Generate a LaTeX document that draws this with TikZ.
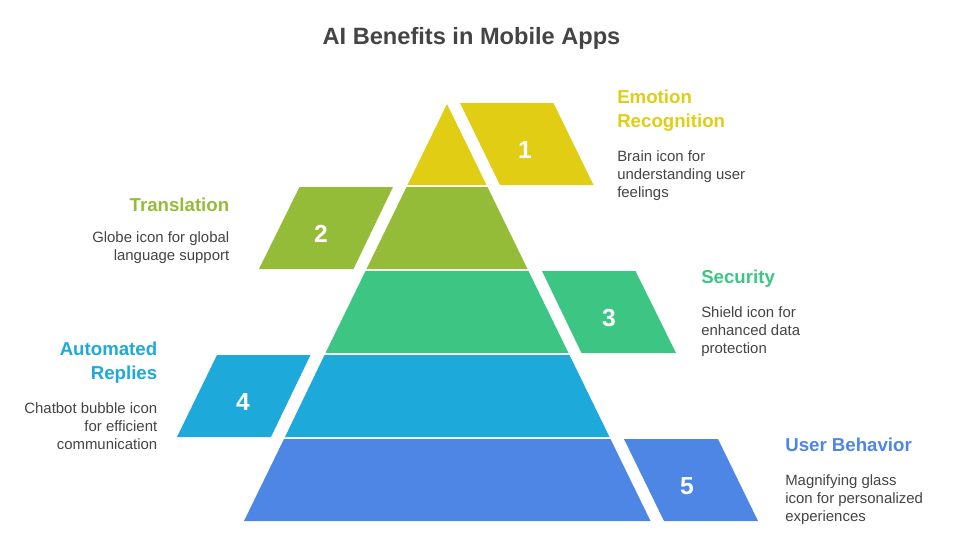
\documentclass[tikz,border=0pt]{standalone}
\usepackage{fontspec}
\setmainfont{Liberation Sans}
\usepackage{tikz}

\definecolor{emotioncol}{HTML}{E0CD14}
\definecolor{translcol}{HTML}{95BC38}
\definecolor{securcol}{HTML}{3DC683}
\definecolor{repliescol}{HTML}{1EA9DB}
\definecolor{behavcol}{HTML}{4D86E5}
\definecolor{inkcol}{HTML}{444444}

\tikzset{
  numlabel/.style={text=white, inner sep=0pt, font=\fontsize{18.5}{20}\selectfont\bfseries},
  headR/.style={anchor=north west, inner sep=0pt, align=left, font=\fontsize{14}{18}\selectfont\bfseries},
  headL/.style={anchor=north east, inner sep=0pt, align=right, font=\fontsize{14}{18}\selectfont\bfseries},
  bodyR/.style={anchor=north west, inner sep=0pt, align=left, text=inkcol, font=\fontsize{11.2}{13.5}\selectfont},
  bodyL/.style={anchor=north east, inner sep=0pt, align=right, text=inkcol, font=\fontsize{11.2}{13.5}\selectfont}
}

\begin{document}
\begin{tikzpicture}[x=0.75pt, y=-0.75pt]
    \useasboundingbox (0,0) rectangle (961,557);

    \node[anchor=center, inner sep=0pt, text=inkcol, font=\fontsize{17.7}{22}\selectfont\bfseries] (title) at (471.5,38) {AI Benefits in Mobile Apps};

    % pyramid layers
    \fill[emotioncol] (447,104) -- (486.5,185) -- (407.5,185) -- cycle;
    \fill[translcol]  (406.5,187) -- (487.5,187) -- (527.5,269) -- (366.5,269) -- cycle;
    \fill[securcol]   (365.5,271) -- (528.5,271) -- (568.5,353) -- (325.5,353) -- cycle;
    \fill[repliescol] (324.5,355) -- (569.5,355) -- (609.5,437) -- (285,437) -- cycle;
    \fill[behavcol]   (284,439) -- (610.5,439) -- (650.5,521) -- (244,521) -- cycle;

    % side blocks
    \fill[emotioncol] (460,103) -- (553.5,103) -- (593.5,185) -- (500,185) -- cycle;
    \fill[translcol]  (299.5,187) -- (393,187) -- (353.5,269) -- (259,269) -- cycle;
    \fill[securcol]   (542,271) -- (635.5,271) -- (676,353) -- (581.5,353) -- cycle;
    \fill[repliescol] (217,355) -- (310.5,355) -- (271,437) -- (177,437) -- cycle;
    \fill[behavcol]   (624,439) -- (718,439) -- (758,521) -- (664,521) -- cycle;

    \node[numlabel] (n1) at (525,150) {1};
    \node[numlabel] (n2) at (321,234) {2};
    \node[numlabel] (n3) at (609,318) {3};
    \node[numlabel] (n4) at (243,402) {4};
    \node[numlabel] (n5) at (687,486) {5};

    \node[headR, text=emotioncol] (h1) at (617,89.5) {Emotion\\Recognition};
    \node[bodyR] (b1) at (617,150) {Brain icon for\\understanding user\\feelings};

    \node[headL, text=translcol] (h2) at (229.5,197.5) {Translation};
    \node[bodyL] (b2) at (229.5,231) {Globe icon for global\\language support};

    \node[headR, text=securcol] (h3) at (701,269.5) {Security};
    \node[bodyR] (b3) at (701,306) {Shield icon for\\enhanced data\\protection};

    \node[headL, text=repliescol] (h4) at (157.5,341.5) {Automated\\Replies};
    \node[bodyL] (b4) at (157.5,402) {Chatbot bubble icon\\for efficient\\communication};

    \node[headR, text=behavcol] (h5) at (785,437.5) {User Behavior};
    \node[bodyR] (b5) at (785,474) {Magnifying glass\\icon for personalized\\experiences};
\end{tikzpicture}
\end{document}
